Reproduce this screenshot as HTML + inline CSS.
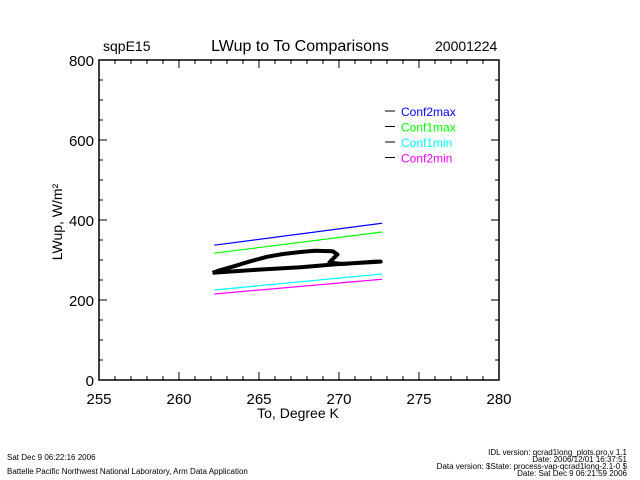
<!DOCTYPE html>
<html><head><meta charset="utf-8"><style>
body{margin:0;background:#fff;width:640px;height:480px;overflow:hidden}
svg{display:block;font-family:"Liberation Sans",sans-serif}
</style></head><body>
<svg width="640" height="480">
<g id="g"></g>
</svg>
<script>
const xTicks=[255,260,265,270,275,280];
const yTicks=[0,200,400,600,800];
const tStart=[262.2,262.2,262.2,262.2];
const tEnd=[272.7,272.7,272.7,272.7];
const seriesNames=["Conf2max","Conf1max","Conf1min","Conf2min"];
const seriesColors=["#0000ff","#00ff00","#00ffff","#ff00ff"];
const startVals=[337,317,225,215];
const endVals=[392,370,265,252];
const obsT=[262.1,262.8,265.0,267.6,270.0,272.6,272.6,272.3,270.2,269.4,269.9,269.6,268.5,267.6,266.5,265.5,264.4,263.4,262.6,262.1];
const obsLW=[268,270,276,282,290,296,296,296,290,294,314,322,323,320,315,308,296,284,275,268];
const X=v=>99+(v-255)*16, Y=v=>380-v*0.4;
const g=document.getElementById('g');
const NS='http://www.w3.org/2000/svg';
function mk(t,a,txt){const e=document.createElementNS(NS,t);for(const k in a)e.setAttribute(k,a[k]);if(txt!==undefined)e.textContent=txt;g.appendChild(e);return e;}
let e=mk('rect',{x:99,y:60,width:400,height:320,fill:'none',stroke:'#000','stroke-width':1.5});


for(let v=255;v<=280;v++){const big=v%5==0,l=big?8:4;
 mk('line',{x1:X(v),x2:X(v),y1:380,y2:380-l,stroke:'#000'});
 mk('line',{x1:X(v),x2:X(v),y1:60,y2:60+l,stroke:'#000'});}
for(let v=0;v<=800;v+=50){const big=v%200==0,l=big?8:4;
 mk('line',{x1:99,x2:99+l,y1:Y(v),y2:Y(v),stroke:'#000'});
 mk('line',{x1:499,x2:499-l,y1:Y(v),y2:Y(v),stroke:'#000'});}
xTicks.forEach(v=>{e=mk('text',{x:X(v),y:404,'text-anchor':'middle','font-size':15},v);
 
 });
yTicks.forEach(v=>{e=mk('text',{x:94,y:Y(v)+6,'text-anchor':'end','font-size':15},v);
 
 });
seriesNames.forEach((n,i)=>{
 e=mk('line',{x1:X(tStart[i]),y1:Y(startVals[i]),x2:X(tEnd[i]),y2:Y(endVals[i]),stroke:seriesColors[i],'stroke-width':1.2});
 
 
 const ly=111+i*15.5;
 mk('line',{x1:385,x2:395,y1:ly,y2:ly,stroke:'#000'});
 e=mk('text',{x:401,y:ly+5,'font-size':12,fill:seriesColors[i]},n);
 
 
});
e=mk('polyline',{points:obsT.map((t,i)=>X(t)+','+Y(obsLW[i])).join(' '),fill:'none',stroke:'#000','stroke-width':4,'stroke-linejoin':'round'});


const txt=[[103,51,'sqpE15',14,'start','plot-site'],[300,51,'LWup to To Comparisons',16,'middle','chart-title'],[435,51,'20001224',14,'start','plot-date'],[298,418,'To, Degree K',14,'middle','x-axis-title']];
txt.forEach(a=>{e=mk('text',{x:a[0],y:a[1],'font-size':a[3],'text-anchor':a[4]},a[2]);
 
 });
e=mk('text',{x:0,y:0,'font-size':14,'text-anchor':'middle',transform:'translate(62,222) rotate(-90)'},'LWup, W/m²');


const foot=[[7,460,'Sat Dec  9 06:22:16 2006','start'],[7,474,'Battelle Pacific Northwest National Laboratory, Arm Data Application','start'],[627,455,'IDL version: qcrad1long_plots.pro,v 1.1','end'],[627,462,'Date: 2006/12/01 16:37:51','end'],[627,469,'Data version: $State: process-vap-qcrad1long-2.1-0 $','end'],[627,476,'Date: Sat Dec  9 06:21:59 2006','end']];
foot.forEach(a=>{e=mk('text',{x:a[0],y:a[1],'font-size':8,'text-anchor':a[3]},a[2]);
 
 });
</script>
</body></html>
